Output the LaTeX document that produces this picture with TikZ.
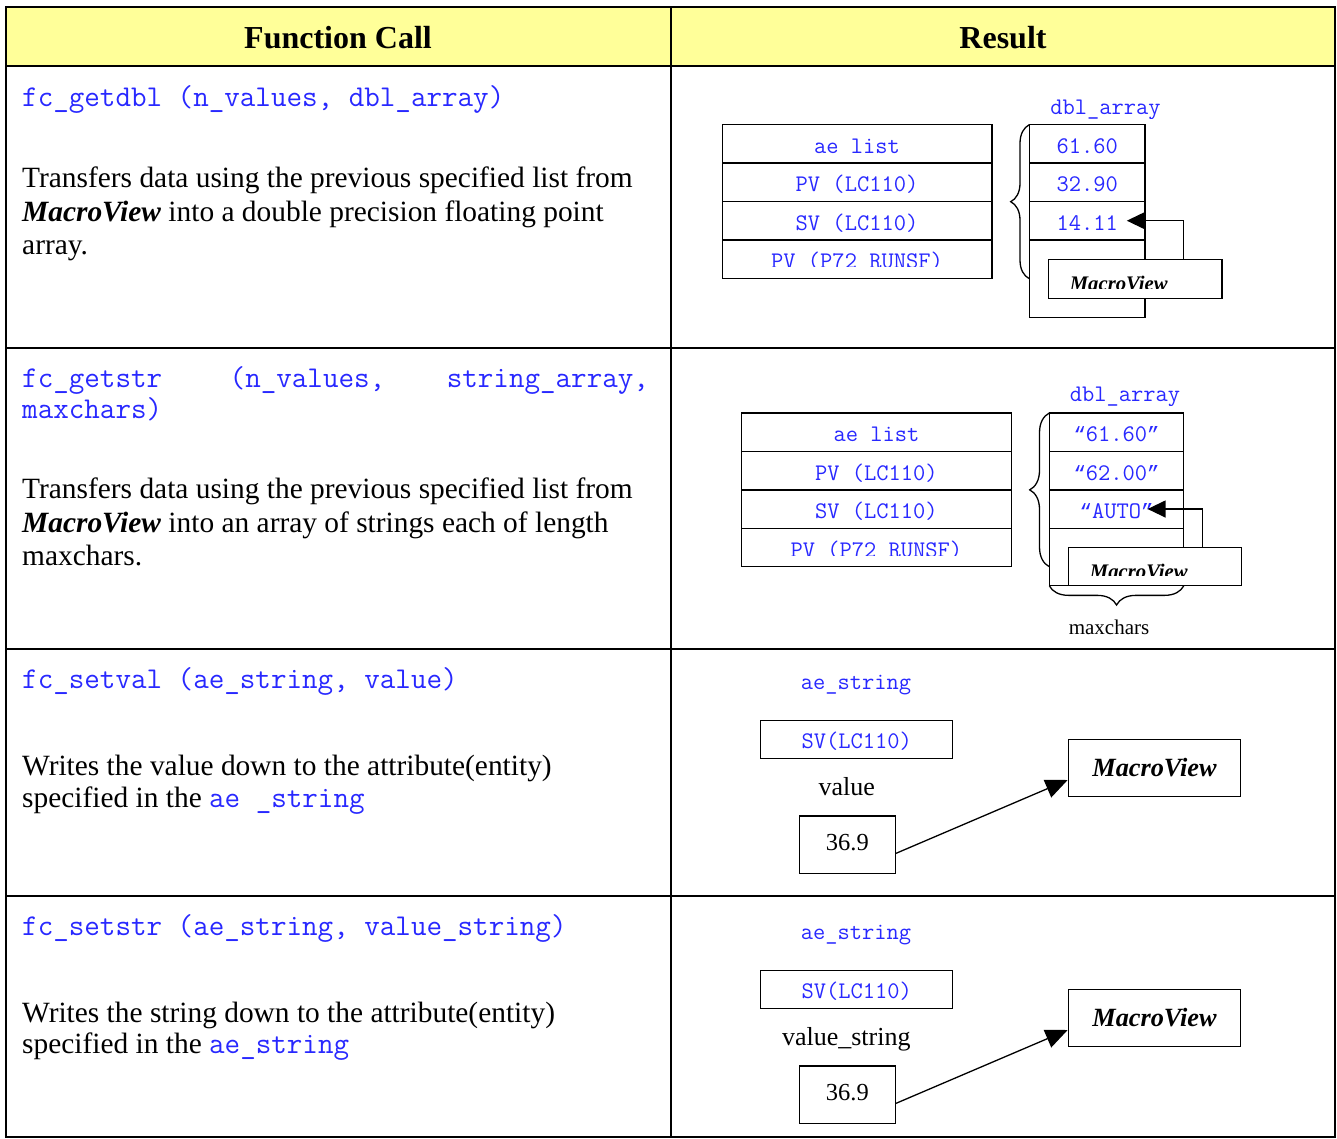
\documentclass[tikz,border=0pt]{standalone}
\usepackage{fontspec}
\setmainfont{Liberation Serif}
\newfontfamily\qfont{Liberation Mono}
\usetikzlibrary{arrows.meta,decorations.pathreplacing}
\definecolor{hdr}{RGB}{255,255,153}
\definecolor{cblue}{RGB}{40,40,255}
\newcommand\hdrfont{\fontsize{32}{36}\selectfont\bfseries}
\newcommand\bodyfnt{\fontsize{29.4}{33}\selectfont}
\newcommand\bcode{\ttfamily\fontsize{30.2}{31}\selectfont}
\newcommand\scode{\ttfamily\fontsize{23.8}{26}\selectfont}
\newcommand\oqt{{\qfont\fontsize{20.7}{24}\selectfont “}}
\newcommand\cqt{{\qfont\fontsize{20.7}{24}\selectfont ”}}
\newcommand\mvtxt{\textbf{\textit{MacroView}}}
\begin{document}
\begin{tikzpicture}[x=1pt,y=-1pt,
  tbl/.style={line width=2pt},
  hdrtext/.style={font=\hdrfont, inner sep=0pt},
  body/.style={font=\bodyfnt, anchor=base west, inner sep=0pt},
  code/.style={font=\bcode, text=cblue, anchor=base west, inner sep=0pt},
  cell/.style={draw, line width=1.3pt, inner sep=0pt, text height=19pt, text depth=0pt, font=\scode, text=cblue},
  lbl/.style={font=\scode, text=cblue, anchor=base, inner sep=0pt},
  dlbl/.style={font=\fontsize{26}{30}\selectfont, anchor=base, inner sep=0pt},
  mvbox/.style={draw, line width=1.3pt, fill=white, inner sep=0pt},
  smallmv/.style={font=\fontsize{20.7}{24}\selectfont, anchor=base west, inner sep=0pt},
  arr/.style={line width=1.3pt, -{Triangle[length=18pt,width=17pt]}},
  arrb/.style={line width=1.3pt, -{Triangle[length=22pt,width=19pt]}},
  brc/.style={decorate, decoration={brace, amplitude=#1}, line width=1.3pt},
]
\useasboundingbox (0,0) rectangle (1337,1138);
% ---------- table ----------
\fill[hdr] (6,7) rectangle (1335,66);
\draw[tbl] (6,7) rectangle (1335,1137);
\draw[tbl] (6,66) -- (1335,66);
\draw[tbl] (6,348) -- (1335,348);
\draw[tbl] (6,649) -- (1335,649);
\draw[tbl] (6,896) -- (1335,896);
\draw[tbl] (671,7) -- (671,1137);
\node[hdrtext, anchor=base] (h1) at (338,48.3) {Function Call};
\node[hdrtext, anchor=base] (h2) at (1003,48.3) {Result};
% ---------- row 1 left ----------
\node[code] (c1) at (22,106) {fc\_getdbl (n\_values, dbl\_array)};
\node[body] (b11) at (22,187) {Transfers data using the previous specified list from};
\node[body] (b12) at (22,221) {\mvtxt{} into a double precision floating point};
\node[body] (b13) at (22,254) {array.};
% ---------- row 2 left ----------
\node[code] (c21) at (22,387) {fc\_getstr};
\node[code] (c22) at (229.5,387) {(n\_values,};
\node[code] (c23) at (446.6,387) {string\_array,};
\node[code] (c24) at (22,418) {maxchars)};
\node[body] (b21) at (22,498) {Transfers data using the previous specified list from};
\node[body] (b22) at (22,532) {\mvtxt{} into an array of strings each of length};
\node[body] (b23) at (22,565) {maxchars.};
% ---------- row 3 left ----------
\node[code] (c3) at (22,688) {fc\_setval (ae\_string, value)};
\node[body] (b31) at (22,775) {Writes the value down to the attribute(entity)};
\node[body] (b32) at (22,807) {specified in the {\bcode\color{cblue}ae \_string}};
% ---------- row 4 left ----------
\node[code] (c4) at (22,935) {fc\_setstr (ae\_string, value\_string)};
\node[body] (b41) at (22,1022) {Writes the string down to the attribute(entity)};
\node[body] (b42) at (22,1053) {specified in the {\bcode\color{cblue}ae\_string}};

% ---------- row 1 diagram ----------
\begin{scope}
\clip (1040,95) rectangle (1170,118);
\node[lbl] (dl1) at (1105.4,114) {dbl\_array};
\end{scope}
\node[cell, minimum width=269.7pt, minimum height=38.5pt] (a1) at (857,143.85) {ae list};
\node[cell, minimum width=269.7pt, minimum height=38.5pt] (a2) at (857,182.35) {PV (LC110)};
\node[cell, minimum width=269.7pt, minimum height=38.5pt] (a3) at (857,220.85) {SV (LC110)};
\node[cell, minimum width=269.7pt, minimum height=38.5pt] (a4) at (857,259.35) {};
\begin{scope}
\clip (723,241) rectangle (991,266.7);
\node[lbl] (a4t) at (857,268.9) {PV (P72 RUNSF)};
\end{scope}
\node[cell, minimum width=115.7pt, minimum height=38.5pt] (d1) at (1087.15,143.85) {61.60};
\node[cell, minimum width=115.7pt, minimum height=38.5pt] (d2) at (1087.15,182.35) {32.90};
\node[cell, minimum width=115.7pt, minimum height=38.5pt] (d3) at (1087.15,220.85) {14.11};
\node[cell, minimum width=115.7pt, minimum height=77.3pt] (d4) at (1087.15,278.65) {};
\node[mvbox, minimum width=173.9pt, minimum height=39pt] (m1) at (1135.15,278.8) {};
\begin{scope}
\clip (1049,260) rectangle (1221,288.3);
\node[smallmv] (m1t) at (1069.6,290.4) {\mvtxt};
\end{scope}
\coordinate (k1) at (1183.2,259.3);
\coordinate (e1) at (1126.8,220.7);
\draw[arr] (k1) |- (e1);
\draw[brc=18.6pt] (1029.3,278.7) -- (1029.3,124.7);

% ---------- row 2 diagram ----------
\begin{scope}
\clip (1060,380) rectangle (1190,405);
\node[lbl] (dl2) at (1125,401) {dbl\_array};
\end{scope}
\node[cell, minimum width=270pt, minimum height=38.4pt] (p1) at (876.4,432.15) {ae list};
\node[cell, minimum width=270pt, minimum height=38.4pt] (p2) at (876.4,470.65) {PV (LC110)};
\node[cell, minimum width=270pt, minimum height=38.4pt] (p3) at (876.4,509.15) {SV (LC110)};
\node[cell, minimum width=270pt, minimum height=38.4pt] (p4) at (876.4,547.5) {};
\begin{scope}
\clip (742,529) rectangle (1010,555);
\node[lbl] (p4t) at (876.4,557) {PV (P72 RUNSF)};
\end{scope}
\node[cell, minimum width=134.5pt, minimum height=38.4pt] (q1) at (1116.55,432.15) {\oqt61.60\cqt};
\node[cell, minimum width=134.5pt, minimum height=38.4pt] (q2) at (1116.55,470.65) {\oqt62.00\cqt};
\node[cell, minimum width=134.5pt, minimum height=38.4pt] (q3) at (1116.55,509.15) {\oqt AUTO\cqt};
\node[cell, minimum width=134.5pt, minimum height=57.4pt] (q4) at (1116.55,557) {};
\node[mvbox, minimum width=173.4pt, minimum height=38pt] (m2) at (1155,566.7) {};
\begin{scope}
\clip (1069,548.5) rectangle (1241,575.3);
\node[smallmv] (m2t) at (1089.7,578) {\mvtxt};
\end{scope}
\coordinate (k2) at (1202.8,547.7);
\coordinate (e2) at (1147.6,509);
\draw[arr] (k2) |- (e2);
\draw[brc=19.6pt] (1049.3,566.7) -- (1049.3,413);
\draw[brc=19.3pt] (1183.8,585.7) -- (1049.3,585.7);
\node[font=\fontsize{21}{25}\selectfont, inner sep=0pt, anchor=base] (mc) at (1109,634) {maxchars};

% ---------- row 3 diagram ----------
\node[lbl] (s3) at (856,689) {ae\_string};
\node[cell, minimum width=192pt, minimum height=38.4pt, text height=17.6pt] (sv3) at (856.7,739.5) {SV(LC110)};
\node[dlbl] (vl3) at (846.7,795) {value};
\node[mvbox, minimum width=96pt, minimum height=57.3pt, font=\fontsize{24.5}{28}\selectfont, text height=10.7pt, text depth=0pt] (n3) at (847.3,844.65) {36.9};
\node[mvbox, minimum width=172.4pt, minimum height=57.4pt, font=\fontsize{26.3}{30}\selectfont, text height=17.4pt, text depth=0pt] (m3) at (1154.5,768) {\mvtxt};
\draw[arrb] ([yshift=-8.7pt]n3.east) -- ([yshift=-12pt]m3.west);

% ---------- row 4 diagram ----------
\node[lbl] (s4) at (856,939) {ae\_string};
\node[cell, minimum width=192pt, minimum height=38.4pt, text height=17.6pt] (sv4) at (856.7,989.5) {SV(LC110)};
\node[dlbl] (vl4) at (846.3,1045) {value\_string};
\node[mvbox, minimum width=96pt, minimum height=57.3pt, font=\fontsize{24.5}{28}\selectfont, text height=10.7pt, text depth=0pt] (n4) at (847.3,1094.65) {36.9};
\node[mvbox, minimum width=172.4pt, minimum height=57.4pt, font=\fontsize{26.3}{30}\selectfont, text height=17.4pt, text depth=0pt] (m4) at (1154.5,1018) {\mvtxt};
\draw[arrb] ([yshift=-8.7pt]n4.east) -- ([yshift=-12pt]m4.west);
\end{tikzpicture}
\end{document}
